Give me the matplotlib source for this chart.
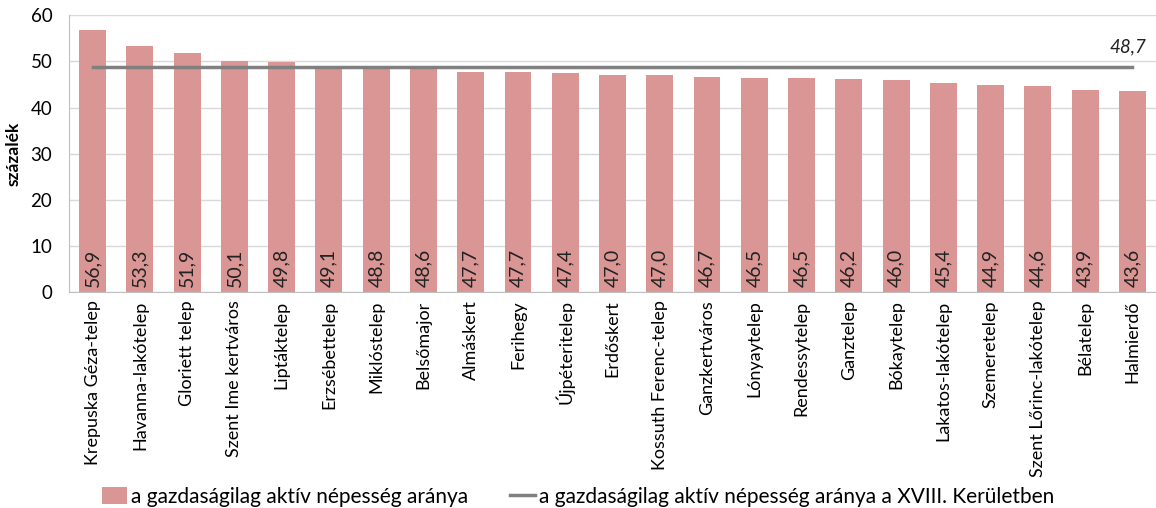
import matplotlib.pyplot as plt
import numpy as np

plt.rcParams["font.family"] = ["Lato", "DejaVu Sans"]

categories = [
    "Krepuska Géza-telep", "Havanna-lakótelep", "Gloriett telep",
    "Szent Ime kertváros", "Liptáktelep", "Erzsébettelep", "Miklóstelep",
    "Belsőmajor", "Almáskert", "Ferihegy", "Újpéteritelep", "Erdőskert",
    "Kossuth Ferenc-telep", "Ganzkertváros", "Lónyaytelep", "Rendessytelep",
    "Ganztelep", "Bókaytelep", "Lakatos-lakótelep", "Szemeretelep",
    "Szent Lőrinc-lakótelep", "Bélatelep", "Halmierdő",
]
values = [56.9, 53.3, 51.9, 50.1, 49.8, 49.1, 48.8, 48.6, 47.7, 47.7, 47.4,
          47.0, 47.0, 46.7, 46.5, 46.5, 46.2, 46.0, 45.4, 44.9, 44.6, 43.9, 43.6]
district_avg = 48.7

bar_label = "a gazdaságilag aktív népesség aránya"
line_label = "a gazdaságilag aktív népesség aránya a XVIII. Kerületben"

fig = plt.figure(figsize=(11.56, 5.08), dpi=100)
ax = fig.add_axes([0.0597, 0.425, 0.9403, 0.545])

x = np.arange(len(categories))
bars = ax.bar(x, values, width=0.57, color="#D99694", zorder=2)
line, = ax.plot([x[0], x[-1]], [district_avg, district_avg], color="#808080",
                linewidth=2.5, zorder=3)

for xi, v in zip(x, values):
    ax.text(xi, 1.0, f"{v:.1f}".replace(".", ","), rotation=90,
            ha="center", va="bottom", fontsize=14, color="#222222", zorder=4)

ax.text(x[-1] + 0.3, district_avg + 2.6, f"{district_avg:.1f}".replace(".", ","),
        ha="right", va="bottom", fontsize=13.5, style="italic", color="#222222")

ax.set_xlim(-0.5, len(categories) - 0.5)
ax.set_ylim(0, 60)
ax.set_yticks(range(0, 61, 10))
ax.set_xticks(x)
ax.set_xticklabels(categories, rotation=90, fontsize=13)
ax.tick_params(axis="both", length=0)
ax.tick_params(axis="y", labelsize=13.5, pad=12)
ax.tick_params(axis="x", pad=6)
ax.grid(axis="y", color="#D9D9D9", linewidth=1, zorder=0)
for side in ("top", "right"):
    ax.spines[side].set_visible(False)
for side in ("left", "bottom"):
    ax.spines[side].set_color("#BFBFBF")
ax.set_ylabel("százalék", fontsize=12.5, fontweight="bold", labelpad=6)

fig.legend([bars, line], [bar_label, line_label], loc="lower center",
           bbox_to_anchor=(0.5, -0.035), ncol=2, frameon=False, fontsize=15,
           handlelength=1.2, handleheight=0.9, columnspacing=2.0,
           handletextpad=0.2)

fig.savefig("out.png", dpi=100)
